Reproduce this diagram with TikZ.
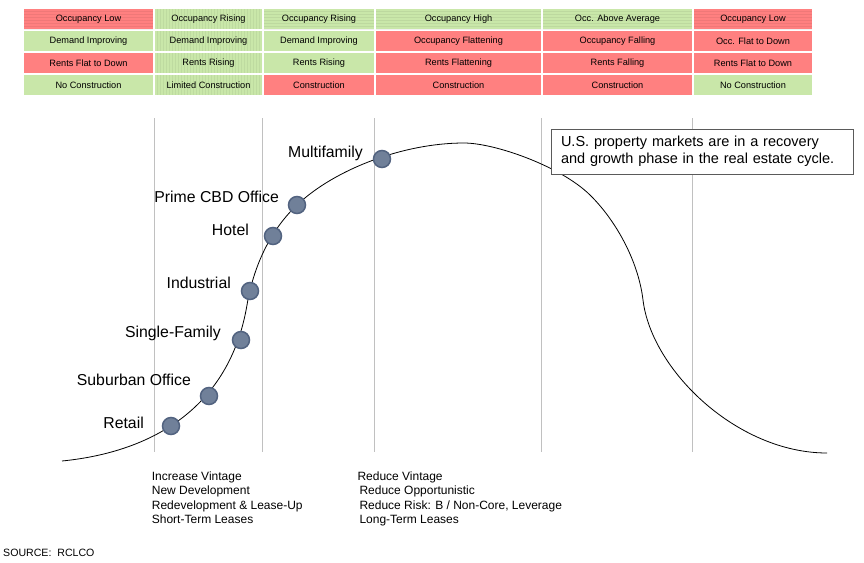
\documentclass[tikz,border=0pt]{standalone}
\usepackage{fontspec}
\setmainfont{Liberation Sans}
\usepackage{tikz}
\usetikzlibrary{positioning}

\definecolor{cellred}{RGB}{255,128,128}
\definecolor{cellgreen}{RGB}{201,231,169}
\definecolor{dotfill}{RGB}{112,128,153}
\definecolor{dotedge}{RGB}{82,99,128}
\definecolor{gridgray}{RGB}{192,192,192}
\definecolor{boxgray}{RGB}{90,90,90}

\tikzset{
  cell/.style={minimum height=20pt, inner sep=0pt, font=\fontsize{9.2}{11}\selectfont},
  redcell/.style={cell, fill=cellred},
  greencell/.style={cell, fill=cellgreen},
  hstripes/.style={path picture={\foreach \k in {2,5,...,20}
      \draw[black, opacity=.06, line width=.6pt] ([yshift=-\k pt]path picture bounding box.north west) -- ([yshift=-\k pt]path picture bounding box.north east);}},
  vstripes/.style={path picture={\foreach \k in {2,5,...,107}
      \draw[black, opacity=.05, line width=.6pt] ([xshift=\k pt]path picture bounding box.north west) -- ([xshift=\k pt]path picture bounding box.south west);}},
  phase/.style={draw=gridgray, line width=1pt},
  dot/.style={circle, minimum size=17pt, inner sep=0pt, fill=dotfill, draw=dotedge, line width=1.5pt},
  sector/.style={anchor=base east, inner sep=0pt, font=\fontsize{15.8}{18}\selectfont},
  advice/.style={anchor=north west, inner sep=0pt, align=left, font=\fontsize{12}{14.4}\selectfont}
}

\begin{document}
\begin{tikzpicture}[x=1pt, y=-1pt]
  \useasboundingbox (0,0) rectangle (864,562);

  % market conditions table
  \node[redcell, hstripes, minimum width=129pt] (occ1) at (88.5,19) {Occupancy Low};
  \node[greencell, vstripes, minimum width=107pt] (occ2) at (208.5,19) {Occupancy Rising};
  \node[greencell, hstripes, minimum width=110pt] (occ3) at (319,19) {Occupancy Rising};
  \node[greencell, hstripes, minimum width=165pt] (occ4) at (458.5,19) {Occupancy High};
  \node[greencell, hstripes, minimum width=149pt] (occ5) at (617.5,19) {Occ. Above Average};
  \node[redcell, hstripes, minimum width=118pt] (occ6) at (753,19) {Occupancy Low};

  \node[greencell, minimum width=129pt] (dem1) at (88.5,41) {Demand Improving};
  \node[greencell, vstripes, minimum width=107pt] (dem2) at (208.5,41) {Demand Improving};
  \node[greencell, minimum width=110pt] (dem3) at (319,41) {Demand Improving};
  \node[redcell, minimum width=165pt] (dem4) at (458.5,41) {Occupancy Flattening};
  \node[redcell, minimum width=149pt] (dem5) at (617.5,41) {Occupancy Falling};
  \node[redcell, minimum width=118pt] (dem6) at (753,41) {Occ. Flat to Down};

  \node[redcell, minimum width=129pt] (rent1) at (88.5,63) {Rents Flat to Down};
  \node[greencell, vstripes, minimum width=107pt] (rent2) at (208.5,63) {Rents Rising};
  \node[greencell, minimum width=110pt] (rent3) at (319,63) {Rents Rising};
  \node[redcell, minimum width=165pt] (rent4) at (458.5,63) {Rents Flattening};
  \node[redcell, minimum width=149pt] (rent5) at (617.5,63) {Rents Falling};
  \node[redcell, minimum width=118pt] (rent6) at (753,63) {Rents Flat to Down};

  \node[greencell, minimum width=129pt] (con1) at (88.5,85) {No Construction};
  \node[greencell, vstripes, minimum width=107pt] (con2) at (208.5,85) {Limited Construction};
  \node[redcell, minimum width=110pt] (con3) at (319,85) {Construction};
  \node[redcell, minimum width=165pt] (con4) at (458.5,85) {Construction};
  \node[redcell, minimum width=149pt] (con5) at (617.5,85) {Construction};
  \node[greencell, minimum width=118pt] (con6) at (753,85) {No Construction};

  % phase dividers
  \draw[phase] (154,118) -- (154,452);
  \draw[phase] (262,118) -- (262,452);
  \draw[phase] (374,118) -- (374,452);
  \draw[phase] (541,118) -- (541,452);
  \draw[phase] (692,118) -- (692,452);

  % cycle curve
  \draw[line width=.8pt] (62,461) .. controls (162,451) and (231,400) .. (247,305)
    .. controls (253.3,268) and (269,231.6) .. (297,205)
    .. controls (335,168.9) and (404,143) .. (464,143)
    .. controls (494,143) and (560,165.6) .. (590,195)
    .. controls (615,219.5) and (638.2,260) .. (643,300)
    .. controls (651.4,370) and (737,453) .. (827,453);

  \node[draw=boxgray, line width=1pt, fill=white, minimum width=302pt, minimum height=45pt,
        inner xsep=10pt, inner ysep=7pt, text width=282pt, align=left, font=\fontsize{14.5}{17}\selectfont]
        (note) at (702,151.5) {U.S. property markets are in a recovery\\and growth phase in the real estate cycle.};

  % property types
  \node[dot] (retail) at (171,426) {};
  \node[dot] (suburban) at (209,396) {};
  \node[dot] (single) at (241,340) {};
  \node[dot] (industrial) at (250,291) {};
  \node[dot] (hotel) at (273,236) {};
  \node[dot] (prime) at (297,205) {};
  \node[dot] (multi) at (382,159) {};

  \node[sector] (retailL) at (144,428) {Retail};
  \node[sector] (suburbanL) at (191,385) {Suburban Office};
  \node[sector] (singleL) at (221,337) {Single-Family};
  \node[sector] (industrialL) at (231,288) {Industrial};
  \node[sector] (hotelL) at (249,235) {Hotel};
  \node[sector] (primeL) at (279,202) {Prime CBD Office};
  \node[sector] (multiL) at (363,157) {Multifamily};

  % strategy notes
  \node[advice] (early) at (151.7,471.5) {Increase Vintage\\New Development\\Redevelopment \& Lease-Up\\Short-Term Leases};
  \node[advice] (late) at (359.3,471.5) {\hspace*{-2pt}Reduce Vintage\\Reduce Opportunistic\\Reduce Risk: B / Non-Core, Leverage\\Long-Term Leases};

  \node[anchor=west, inner sep=0pt, font=\fontsize{10.6}{12}\selectfont] (source) at (3,553) {SOURCE:\ \ RCLCO};
\end{tikzpicture}
\end{document}
